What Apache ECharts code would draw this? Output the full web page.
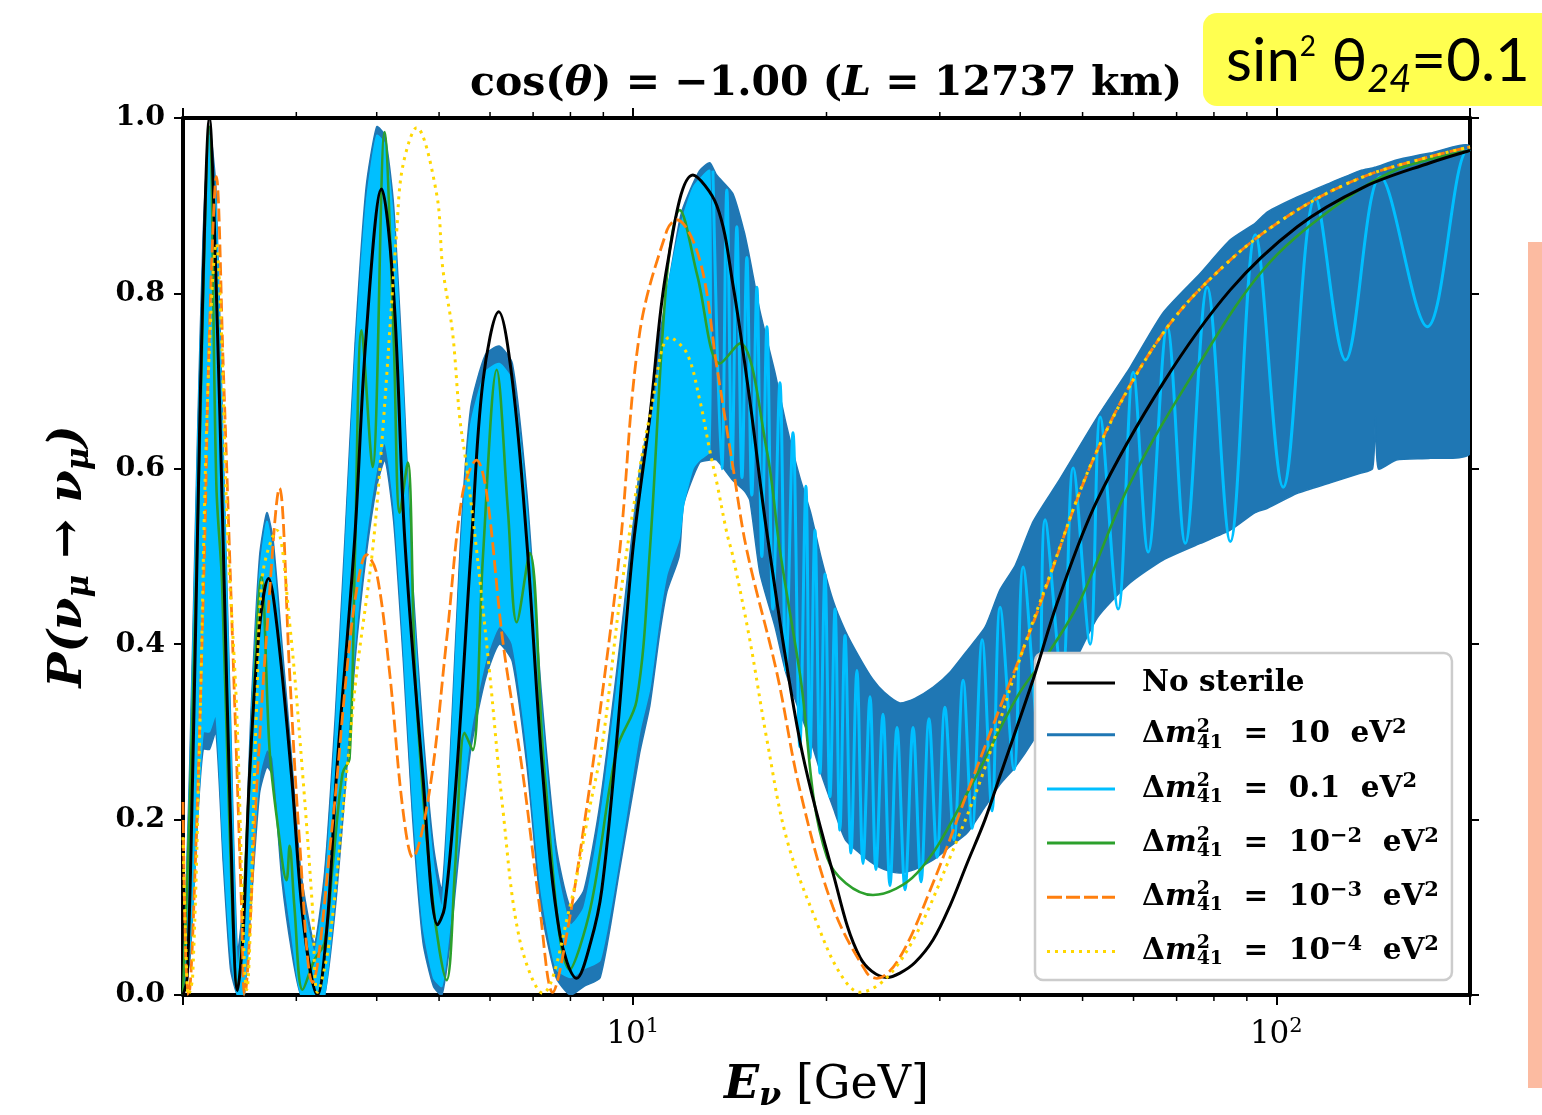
<!DOCTYPE html>
<html>
<head>
<meta charset="utf-8">
<script src="https://cdn.jsdelivr.net/npm/echarts@6/dist/echarts.min.js"></script>
<style>html,body{margin:0;padding:0;background:#fff}#c{width:1542px;height:1115px}</style>
</head>
<body>
<div id="c"></div>
<script>
// ---------------- DATA (E in GeV, P = survival probability) ----------------
const xMinorTicks = [3, 4, 5, 6, 7, 8, 9, 20, 30, 40, 50, 60, 70, 80, 90];
const yTickValues = [0, 0.2, 0.4, 0.6, 0.8, 1.0];

// No sterile
const noSterileE = [2.0,2.03,2.07,2.107,2.15,2.198,2.25,2.312,2.37,2.43,2.48,2.537,2.63,2.716,2.80,2.949,3.08,3.236,3.35,3.465,3.696,3.85,4.071,4.25,4.423,4.715,4.975,5.10,5.325,5.618,5.85,6.189,6.5,6.841,7.244,7.7,8.181,8.6,8.95,9.44,10.0,10.63,11.30,12.4,13.51,14.31,15.2,16.16,18.18,20.47,22.54,24.83,26.01,27.45,29.29,31.12,33.07,35.27,37.22,41.90,45.81,52.68,66.73,84.83,107.8,136.6,173.5,200];
const noSterileP = [0.0,0.02,0.25,0.53,0.82,1.0,0.82,0.5,0.2,0.005,0.07,0.25,0.42,0.475,0.42,0.25,0.08,0.0,0.08,0.253,0.519,0.75,0.919,0.8,0.519,0.253,0.08,0.1,0.253,0.519,0.7,0.779,0.7,0.519,0.253,0.07,0.019,0.06,0.12,0.29,0.507,0.66,0.83,0.935,0.9,0.81,0.678,0.527,0.29,0.139,0.043,0.02,0.025,0.037,0.063,0.102,0.15,0.2,0.25,0.36,0.45,0.564,0.698,0.804,0.876,0.921,0.949,0.963];

// dm41^2 = 10 eV^2 : fast oscillation band (upper / lower envelope)
const m10E  = [2.0,2.05,2.107,2.15,2.198,2.25,2.31,2.37,2.43,2.49,2.55,2.63,2.70,2.76,2.85,2.95,3.05,3.2,3.32,3.45,3.57,3.70,3.85,4.0,4.12,4.25,4.40,4.55,4.72,4.9,5.05,5.2,5.4,5.6,5.9,6.2,6.5,6.85,7.2,7.6,8.0,8.4,8.9,9.55,10.25,10.63,11.0,11.3,11.8,12.0,12.7,13.17,13.5,14.3,14.9,15.2,15.76,16.63,17.3,18.18,18.9,19.6,20.47,21.4,22.5,23.6,24.6,26.0,27.4,29.3,31.1,33.1,35.3,37.2,39.3,41.9,45.8,52.7,59.3,66.7,76.2,84.8,92.7,96.9,107.8,121.3,135,141.1,142.6,144.1,153.7,173.5,200];
const m10Hi = [0.0,0.27,0.64,0.87,0.99,0.92,0.62,0.32,0.05,0.12,0.32,0.5,0.55,0.52,0.4,0.27,0.14,0.06,0.14,0.32,0.52,0.74,0.92,0.99,0.98,0.9,0.7,0.47,0.3,0.17,0.12,0.27,0.52,0.67,0.73,0.74,0.72,0.57,0.35,0.17,0.1,0.12,0.22,0.4,0.6,0.66,0.75,0.8,0.88,0.9,0.94,0.949,0.935,0.914,0.87,0.84,0.78,0.71,0.652,0.59,0.55,0.5,0.45,0.415,0.385,0.36,0.345,0.333,0.338,0.351,0.368,0.393,0.42,0.462,0.49,0.54,0.585,0.659,0.716,0.778,0.823,0.861,0.88,0.893,0.91,0.926,0.94,0.943,0.944,0.945,0.952,0.96,0.967];
const m10Lo = [0.0,0.04,0.2,0.28,0.28,0.3,0.15,0.03,0.0,0.0,0.1,0.23,0.26,0.25,0.13,0.05,0.0,0.0,0.0,0.1,0.23,0.38,0.5,0.58,0.61,0.54,0.38,0.2,0.06,0.01,0.0,0.06,0.18,0.28,0.36,0.4,0.38,0.26,0.1,0.02,0.0,0.01,0.02,0.145,0.276,0.33,0.41,0.46,0.5,0.56,0.607,0.61,0.61,0.587,0.575,0.564,0.481,0.42,0.367,0.322,0.29,0.253,0.214,0.177,0.162,0.15,0.143,0.139,0.143,0.154,0.169,0.185,0.215,0.24,0.26,0.29,0.34,0.43,0.47,0.496,0.515,0.53,0.55,0.555,0.572,0.584,0.595,0.6,0.659,0.6,0.61,0.612,0.618];

// dm41^2 = 0.1 eV^2 : unresolved band at low energy, then resolved wiggles
const m01BandE  = [2.0,2.05,2.107,2.15,2.198,2.25,2.31,2.37,2.43,2.49,2.55,2.63,2.70,2.76,2.85,2.95,3.05,3.2,3.32,3.45,3.57,3.70,3.85,4.0,4.12,4.25,4.40,4.55,4.72,4.9,5.05,5.2,5.4,5.6,5.9,6.2,6.5,6.85,7.2,7.6,8.0,8.4,8.9,9.55,10.25,10.63,11.0,11.3,11.8,12.0,12.4,12.7,13.17];
const m01BandHi = [0.0,0.25,0.62,0.85,0.98,0.9,0.6,0.3,0.03,0.1,0.3,0.48,0.54,0.5,0.38,0.25,0.12,0.05,0.12,0.3,0.5,0.72,0.9,0.98,0.97,0.88,0.68,0.45,0.28,0.15,0.1,0.25,0.5,0.65,0.71,0.72,0.7,0.55,0.33,0.15,0.08,0.1,0.2,0.38,0.58,0.64,0.72,0.8,0.87,0.89,0.92,0.93,0.94];
const m01BandLo = [0.0,0.05,0.2,0.3,0.3,0.32,0.17,0.05,0.0,0.0,0.12,0.25,0.28,0.27,0.15,0.07,0.0,0.0,0.0,0.12,0.25,0.4,0.52,0.6,0.63,0.56,0.4,0.22,0.08,0.02,0.01,0.08,0.2,0.3,0.38,0.42,0.4,0.28,0.12,0.03,0.02,0.03,0.04,0.16,0.3,0.35,0.43,0.48,0.52,0.56,0.6,0.61,0.62];
const m01E = [13.32,13.75,14.00,14.26,14.51,14.78,15.04,15.31,15.59,15.87,16.16,16.51,16.93,17.30,17.74,18.18,18.58,18.85,19.19,19.54,19.89,20.25,20.62,20.98,21.37,21.83,22.30,22.79,23.37,23.87,24.48,25.10,25.74,26.49,27.26,28.05,28.86,29.71,30.55,31.57,32.61,33.68,34.91,36.16,37.22,39.13,40.42,42.65,43.72,46.48,48.34,51.37,53.25,56.79,59.93,63.23,67.69,72.21,78.10,84.83,92.76,102.5,115.0,128.1,145.1,171.7,198.2,200];
const m01P = [0.94,0.6,0.918,0.6,0.876,0.59,0.841,0.57,0.807,0.5,0.762,0.44,0.698,0.37,0.641,0.283,0.58,0.27,0.53,0.253,0.48,0.226,0.44,0.188,0.41,0.162,0.37,0.15,0.34,0.143,0.32,0.125,0.305,0.12,0.305,0.129,0.315,0.157,0.328,0.177,0.359,0.19,0.405,0.21,0.442,0.257,0.488,0.3,0.542,0.36,0.601,0.40,0.659,0.44,0.71,0.505,0.762,0.515,0.807,0.517,0.867,0.579,0.909,0.724,0.933,0.762,0.963,0.962];

// dm41^2 = 1e-2 eV^2
const m2E = [2.0,2.05,2.107,2.198,2.254,2.30,2.36,2.43,2.54,2.649,2.726,2.80,2.897,2.929,2.98,3.068,3.2,3.319,3.42,3.54,3.63,3.70,3.789,3.941,4.114,4.25,4.344,4.469,4.6,4.887,5.137,5.3,5.479,5.639,5.85,6.145,6.40,6.601,6.917,7.3,7.98,8.6,9.443,10.14,10.63,11.3,11.83,12.6,13.66,14.67,16.16,16.93,18.18,20.04,23.62,27.65,33.07,39.56,44.52,49.57,59.29,75.36,95.45,121.3,153.7,200];
const m2P = [0.0,0.22,0.53,0.99,0.58,0.47,0.2,0.01,0.25,0.477,0.28,0.2,0.131,0.17,0.1,0.006,0.04,0.06,0.15,0.253,0.27,0.5,0.758,0.602,0.984,0.75,0.55,0.607,0.35,0.108,0.017,0.15,0.299,0.279,0.5,0.713,0.55,0.425,0.504,0.25,0.029,0.1,0.28,0.336,0.507,0.82,0.895,0.82,0.72,0.743,0.62,0.507,0.367,0.157,0.114,0.139,0.23,0.34,0.393,0.45,0.584,0.716,0.827,0.895,0.941,0.963];

// dm41^2 = 1e-3 eV^2
const m3E = [2.0,2.02,2.04,2.09,2.16,2.198,2.254,2.31,2.362,2.466,2.492,2.611,2.694,2.825,2.929,3.034,3.178,3.415,3.591,3.723,3.858,3.999,4.19,4.388,4.549,4.835,5.137,5.44,5.719,5.929,6.277,6.745,7.167,7.508,7.9,8.48,8.983,9.545,10.25,11.30,11.70,12.71,13.51,14.31,15.04,16.75,18.18,20.47,23.11,23.96,26.01,29.29,33.07,37.22,41.90,52.68,66.73,84.83,107.8,136.6,173.5,200];
const m3P = [0.22,0.04,0.0,0.15,0.507,0.755,0.933,0.716,0.507,0.1,0.0,0.253,0.405,0.578,0.367,0.177,0.014,0.196,0.367,0.462,0.502,0.481,0.367,0.214,0.157,0.234,0.405,0.572,0.61,0.572,0.405,0.253,0.1,0.003,0.07,0.214,0.348,0.507,0.755,0.872,0.884,0.838,0.716,0.602,0.507,0.367,0.234,0.1,0.025,0.019,0.043,0.128,0.23,0.328,0.424,0.621,0.755,0.838,0.895,0.933,0.956,0.967];

// dm41^2 = 1e-4 eV^2
const m4E = [2.0,2.02,2.04,2.07,2.122,2.183,2.254,2.295,2.345,2.422,2.512,2.603,2.66,2.796,2.929,3.068,3.178,3.236,3.38,3.591,3.723,3.941,4.085,4.295,4.388,4.615,4.955,5.064,5.248,5.382,5.518,5.719,5.992,6.277,6.672,7.244,7.98,8.573,8.983,9.545,10.25,10.63,11.41,12.13,12.71,13.17,13.51,14.0,14.31,15.2,16.16,17.36,19.33,20.98,22.54,24.83,27.65,31.12,35.02,39.56,44.05,52.68,66.73,84.83,107.8,136.6,173.5,200];
const m4P = [0.18,0.06,0.0,0.02,0.29,0.678,0.857,0.755,0.527,0.33,0.006,0.33,0.48,0.53,0.424,0.253,0.1,0.003,0.063,0.253,0.367,0.507,0.641,0.869,0.944,0.989,0.914,0.83,0.755,0.659,0.602,0.507,0.367,0.214,0.063,0.002,0.1,0.214,0.29,0.45,0.6,0.66,0.75,0.732,0.678,0.621,0.584,0.527,0.5,0.405,0.291,0.177,0.082,0.025,0.003,0.02,0.071,0.157,0.253,0.374,0.47,0.621,0.755,0.838,0.895,0.933,0.956,0.967];

// ---------------- STYLE ----------------
const C = { black:'#000000', m10:'#1f77b4', m01:'#00bfff', m2:'#2ca02c', m3:'#ff7f0e', m4:'#ffd700' };
const SERIF = "'DejaVu Serif', 'Liberation Serif', serif";
const SANS = "Lato, 'Open Sans', 'Noto Sans', sans-serif";
const zip = (xs, ys) => xs.map((x, i) => [x, ys[i]]);

function band(name, E, hi, lo, color, z) {
  return {
    name: name, type: 'custom', coordinateSystem: 'cartesian2d', z: z, silent: true, clip: true,
    itemStyle: { color: color },
    data: [[E[0], lo[0]]],
    renderItem: function (params, api) {
      const pts = [];
      for (let i = 0; i < E.length; i++) pts.push(api.coord([E[i], hi[i]]));
      for (let i = E.length - 1; i >= 0; i--) pts.push(api.coord([E[i], lo[i]]));
      return { type: 'polygon', shape: { points: pts, smooth: 0.2 },
               style: { fill: color, stroke: color, lineWidth: 1.5 } };
    }
  };
}
function line(name, data, color, z, type, width) {
  return {
    name: name, type: 'line', data: data, z: z, smooth: 0.35, showSymbol: false, symbol: 'none',
    silent: true, clip: true,
    lineStyle: { color: color, width: width || 2.8, type: type || 'solid', cap: 'butt' },
    itemStyle: { color: color }
  };
}

const ICON_SOLID = 'path://M0,0H68V3H0Z';
const ICON_DASH = 'path://M0,0H15V3H0Z M19,0H33V3H19Z M37,0H51V3H37Z M55,0H68V3H55Z';
const ICON_DOT = 'path://M0,0H3V3H0Z M8,0H11V3H8Z M16,0H19V3H16Z M24,0H27V3H24Z M32,0H35V3H32Z M40,0H43V3H40Z M48,0H51V3H48Z M56,0H59V3H56Z M65,0H68V3H65Z';

const dm = '{gap| }{t|Δ}{m|m}{up|2}{dn|41}';
const legendText = {
  nost: '{gap| }{t|No sterile}',
  m10: dm + '{t|  =  10  eV}{up2|2}',
  m01: dm + '{t|  =  0.1  eV}{up2|2}',
  m2:  dm + '{t|  =  10}{up2|−2}{t|  eV}{up2|2}',
  m3:  dm + '{t|  =  10}{up2|−3}{t|  eV}{up2|2}',
  m4:  dm + '{t|  =  10}{up2|−4}{t|  eV}{up2|2}'
};
const LB = { fontFamily: SERIF, fontWeight: 'bold', color: '#000' };

const chart = echarts.init(document.getElementById('c'), null, { renderer: 'canvas' });
const option = {
  animation: false,
  backgroundColor: '#ffffff',
  grid: { left: 183, right: 72, top: 118, bottom: 120, containLabel: false, outerBoundsMode: 'none' },
  xAxis: [
    { type: 'log', logBase: 10, min: 2, max: 200, position: 'bottom',
      axisLine: { show: true, onZero: false, lineStyle: { color: '#000', width: 4 } },
      axisTick: { show: true, inside: false, length: 10, lineStyle: { color: '#000', width: 2 } },
      splitLine: { show: false }, minorTick: { show: false },
      axisLabel: { margin: 22, color: '#000', showMinLabel: true, showMaxLabel: true,
        formatter: function (v) {
          const l = Math.round(Math.log10(v) * 1000) / 1000;
          if (l === 1) return '{n|10}{s|1}';
          if (l === 2) return '{n|10}{s|2}';
          return '';
        },
        rich: { n: { fontFamily: SERIF, fontSize: 31, color: '#000', lineHeight: 36 },
                s: { fontFamily: SERIF, fontSize: 21, color: '#000', lineHeight: 21, padding: [0, 0, 16, 0] } } },
      name: '{e|E}{v|ν}{g| [GeV]}', nameLocation: 'middle', nameGap: 64,
      nameTextStyle: { rich: {
        e: { fontFamily: SERIF, fontSize: 46, fontWeight: 'bold', fontStyle: 'italic', color: '#000', lineHeight: 54 },
        v: { fontFamily: SERIF, fontSize: 32, fontWeight: 'bold', fontStyle: 'italic', color: '#000', lineHeight: 32, padding: [22, 0, 0, 0] },
        g: { fontFamily: SERIF, fontSize: 46, color: '#000', lineHeight: 54 } } }
    },
    { type: 'log', logBase: 10, min: 2, max: 200, position: 'top',
      axisLine: { show: true, onZero: false, lineStyle: { color: '#000', width: 4 } },
      axisTick: { show: true, inside: false, length: 10, lineStyle: { color: '#000', width: 2 } },
      splitLine: { show: false }, axisLabel: { show: false } }
  ],
  yAxis: [
    { type: 'value', min: 0, max: 1, interval: 0.2, position: 'left',
      axisLine: { show: true, onZero: false, lineStyle: { color: '#000', width: 4 } },
      axisTick: { show: true, inside: false, length: 9, lineStyle: { color: '#000', width: 2 } },
      splitLine: { show: false },
      axisLabel: { margin: 18, color: '#000', fontFamily: SERIF, fontWeight: 'bold', fontSize: 28.5,
        formatter: function (v) { return yTickValues.some(t => Math.abs(t - v) < 1e-9) ? v.toFixed(1) : ''; } },
      name: '{p|P(}{v|ν}{s|μ}{p| → }{v|ν}{s|μ}{p|)}', nameLocation: 'middle', nameGap: 86, nameRotate: 90,
      nameTextStyle: { rich: {
        p: { fontFamily: SERIF, fontSize: 47, fontWeight: 'bold', fontStyle: 'italic', color: '#000', lineHeight: 56 },
        v: { fontFamily: SERIF, fontSize: 47, fontWeight: 'bold', fontStyle: 'italic', color: '#000', lineHeight: 56 },
        s: { fontFamily: SERIF, fontSize: 31, fontWeight: 'bold', fontStyle: 'italic', color: '#000', lineHeight: 31, padding: [22, 0, 0, 0] } } }
    },
    { type: 'value', min: 0, max: 1, interval: 0.2, position: 'right',
      axisLine: { show: true, onZero: false, lineStyle: { color: '#000', width: 4 } },
      axisTick: { show: true, inside: false, length: 9, lineStyle: { color: '#000', width: 2 } },
      splitLine: { show: false }, axisLabel: { show: false } }
  ],
  legend: {
    orient: 'vertical', left: 1035, top: 653,
    padding: [15, 13, 11, 12],
    itemWidth: 68, itemHeight: 3, itemGap: 19.2,
    selectedMode: false,
    backgroundColor: '#ffffff', borderColor: '#cccccc', borderWidth: 2.5, borderRadius: 8,
    itemStyle: { borderWidth: 0 },
    formatter: function (name) { return legendText[name]; },
    textStyle: { fontFamily: SERIF, fontWeight: 'bold', fontSize: 29, color: '#000',
      rich: {
        gap: Object.assign({ fontSize: 29, lineHeight: 34, width: 22 }, LB),
        t: Object.assign({ fontSize: 29.5, lineHeight: 34 }, LB),
        m: Object.assign({ fontSize: 30, lineHeight: 34, fontStyle: 'italic' }, LB),
        up: Object.assign({ fontSize: 19, lineHeight: 19, padding: [0, 0, 16, 0], width: 0 }, LB),
        dn: Object.assign({ fontSize: 19, lineHeight: 19, padding: [16, 0, 0, 0] }, LB),
        up2: Object.assign({ fontSize: 21, lineHeight: 21, padding: [0, 0, 14, 0] }, LB)
      } },
    data: [
      { name: 'nost', icon: ICON_SOLID, itemStyle: { color: C.black, borderWidth: 0 } },
      { name: 'm10', icon: ICON_SOLID, itemStyle: { color: C.m10, borderWidth: 0 } },
      { name: 'm01', icon: ICON_SOLID, itemStyle: { color: C.m01, borderWidth: 0 } },
      { name: 'm2', icon: ICON_SOLID, itemStyle: { color: C.m2, borderWidth: 0 } },
      { name: 'm3', icon: ICON_DASH, itemStyle: { color: C.m3, borderWidth: 0 } },
      { name: 'm4', icon: ICON_DOT, itemStyle: { color: C.m4, borderWidth: 0 } }
    ]
  },
  graphic: [
    { type: 'text', x: 826, y: 84, z: 10,
      style: { text: '{r|cos(}{i|θ}{r|) = −1.00 (}{b|L}{r| = 12737 km)}', align: 'center', verticalAlign: 'middle',
        rich: { r: { fontFamily: SERIF, fontSize: 41, fontWeight: 'bold', color: '#000' },
                i: { fontFamily: SERIF, fontSize: 41, fontWeight: 'bold', fontStyle: 'italic', color: '#000' },
                b: { fontFamily: SERIF, fontSize: 41, fontStyle: 'italic', fontWeight: 'bold', color: '#000' } } } },
    { type: 'rect', shape: { x: 1203, y: 13, width: 360, height: 93, r: 14 }, style: { fill: '#ffff50' }, z: 5 },
    { type: 'text', x: 1226, y: 62, z: 10,
      style: { text: '{a|sin}{s|2}{a| θ}{d|24}{a|=0.1}', align: 'left', verticalAlign: 'middle',
        rich: { a: { fontFamily: SANS, fontSize: 60, color: '#000', lineHeight: 66 },
                s: { fontFamily: SANS, fontSize: 28, color: '#000', lineHeight: 28, padding: [0, 0, 30, 0] },
                d: { fontFamily: SANS, fontSize: 38, fontStyle: 'italic', color: '#000', lineHeight: 38, padding: [36, 0, 0, 0] } } } },
    { type: 'rect', shape: { x: 1528, y: 242, width: 14, height: 846 }, style: { fill: '#fcbba1' }, z: 5 }
  ],
  series: [
    band('m10', m10E, m10Hi, m10Lo, C.m10, 1),
    band('m01', m01BandE, m01BandHi, m01BandLo, C.m01, 2),
    line('m01', zip(m01E, m01P), C.m01, 2, 'solid', 3),
    line('m2', zip(m2E, m2P), C.m2, 3, 'solid', 2.6),
    line('nost', zip(noSterileE, noSterileP), C.black, 4, 'solid', 3),
    line('m3', zip(m3E, m3P), C.m3, 5, [13, 5], 2.8),
    line('m4', zip(m4E, m4P), C.m4, 6, [3, 5], 3),
    { name: 'ticks', type: 'custom', coordinateSystem: 'cartesian2d', z: 20, silent: true, clip: false,
      data: xMinorTicks.map(v => [v, 0]),
      renderItem: function (params, api) {
        const v = api.value(0);
        const b = api.coord([v, 0]), t = api.coord([v, 1]);
        return { type: 'group', children: [
          { type: 'line', shape: { x1: b[0], y1: b[1], x2: b[0], y2: b[1] + 6 }, style: { stroke: '#000', lineWidth: 1.5 } },
          { type: 'line', shape: { x1: t[0], y1: t[1], x2: t[0], y2: t[1] - 6 }, style: { stroke: '#000', lineWidth: 1.5 } }
        ] };
      } }
  ]
};
chart.setOption(option);
</script>
</body>
</html>
